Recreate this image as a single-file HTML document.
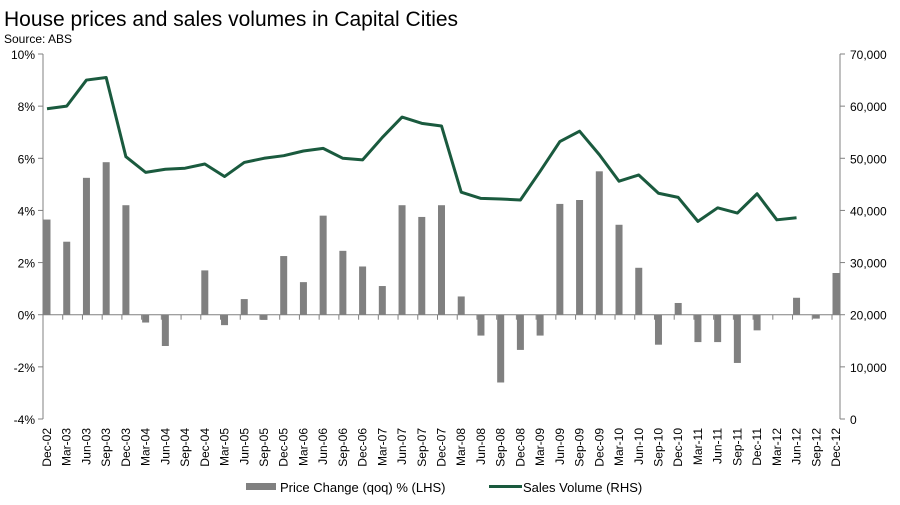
<!DOCTYPE html>
<html><head><meta charset="utf-8"><style>
body{margin:0;background:#fff;font-family:"Liberation Sans",Arial,sans-serif;}
svg text{font-family:"Liberation Sans",Arial,sans-serif;}
</style></head><body>
<svg id="chart" width="900" height="500" xmlns="http://www.w3.org/2000/svg">
<text x="4" y="26" font-size="21" fill="#000">House prices and sales volumes in Capital Cities</text>
<text x="4" y="43" font-size="12" fill="#000">Source: ABS</text>
<g id="g"></g>
<g>
<rect x="246" y="483" width="30" height="7" fill="#808080"/>
<text x="280" y="492" font-size="13">Price Change (qoq) % (LHS)</text>
<line x1="489" y1="486.5" x2="522" y2="486.5" stroke="#1a5a3e" stroke-width="3"/>
<text x="523" y="492" font-size="13">Sales Volume (RHS)</text>
</g>
</svg>
<script>
const categories=["Dec-02","Mar-03","Jun-03","Sep-03","Dec-03","Mar-04","Jun-04","Sep-04","Dec-04","Mar-05","Jun-05","Sep-05","Dec-05","Mar-06","Jun-06","Sep-06","Dec-06","Mar-07","Jun-07","Sep-07","Dec-07","Mar-08","Jun-08","Sep-08","Dec-08","Mar-09","Jun-09","Sep-09","Dec-09","Mar-10","Jun-10","Sep-10","Dec-10","Mar-11","Jun-11","Sep-11","Dec-11","Mar-12","Jun-12","Sep-12","Dec-12"];
const priceChange=[3.65,2.8,5.25,5.85,4.2,-0.3,-1.2,0,1.7,-0.4,0.6,-0.2,2.25,1.25,3.8,2.45,1.85,1.1,4.2,3.75,4.2,0.7,-0.8,-2.6,-1.35,-0.8,4.25,4.4,5.5,3.45,1.8,-1.15,0.45,-1.05,-1.05,-1.85,-0.6,0,0.65,-0.15,1.6];
const salesVolume=[59500,60000,65000,65500,50300,47300,47900,48100,48900,46500,49200,50000,50500,51400,51900,50000,49700,54000,57900,56700,56200,43500,42300,42200,42000,47500,53200,55200,50700,45600,46800,43300,42500,37900,40500,39500,43200,38200,38600];
const leftTicks=[-4,-2,0,2,4,6,8,10];
const leftTickLabels=["-4%","-2%","0%","2%","4%","6%","8%","10%"];
const rightTicks=[0,10000,20000,30000,40000,50000,60000,70000];
const rightTickLabels=["0","10,000","20,000","30,000","40,000","50,000","60,000","70,000"];

const NS="http://www.w3.org/2000/svg";
const g=document.getElementById('g');
const L=43,R=840,T=54,B=419;
const yL=v=>B-(v-(-4))/14*(B-T);
const yR=v=>B-v/70000*(B-T);
const x=i=>47+i*(836-47)/(categories.length-1);
function mk(t,a){const e=document.createElementNS(NS,t);for(const k in a)e.setAttribute(k,a[k]);g.appendChild(e);return e;}
// axes
let e=mk('line',{x1:L,y1:T,x2:L,y2:B,stroke:'#808080'});


e=mk('line',{x1:R,y1:T,x2:R,y2:B,stroke:'#808080'});


e=mk('line',{x1:L,y1:yL(0),x2:R,y2:yL(0),stroke:'#808080'});


leftTicks.forEach((v,i)=>{
  const y=yL(v);
  const t=mk('line',{x1:L-5,y1:y,x2:L,y2:y,stroke:'#808080'});
  
  
  const s=mk('text',{x:L-8,y:y+5,'font-size':12,'text-anchor':'end'});
  
  
  s.textContent=leftTickLabels[i];
});
rightTicks.forEach((v,i)=>{
  const y=yR(v);
  const t=mk('line',{x1:R,y1:y,x2:R+5,y2:y,stroke:'#808080'});
  
  
  const s=mk('text',{x:R+10,y:y+5,'font-size':12});
  
  
  s.textContent=rightTickLabels[i];
});
categories.forEach((c,i)=>{
  const cx=x(i);
  const t=mk('line',{x1:cx-4,y1:yL(0),x2:cx-4,y2:yL(0)+5,stroke:'#808080'});
  
  
  const s=mk('text',{x:0,y:0,'font-size':12,'text-anchor':'end',transform:`translate(${cx+4},428) rotate(-90)`});
  
  
  s.textContent=c;
});
priceChange.forEach((v,i)=>{
  if(v===0)return;
  const y0=yL(0),y1=yL(v);
  const r=mk('rect',{x:x(i)-3.5,y:Math.min(y0,y1),width:7,height:Math.abs(y1-y0),fill:'#808080'});
  
  
});
const p=mk('polyline',{points:salesVolume.map((v,i)=>x(i)+','+yR(v)).join(' '),fill:'none',stroke:'#1a5a3e','stroke-width':3,'stroke-linejoin':'round'});


</script>
</body></html>
